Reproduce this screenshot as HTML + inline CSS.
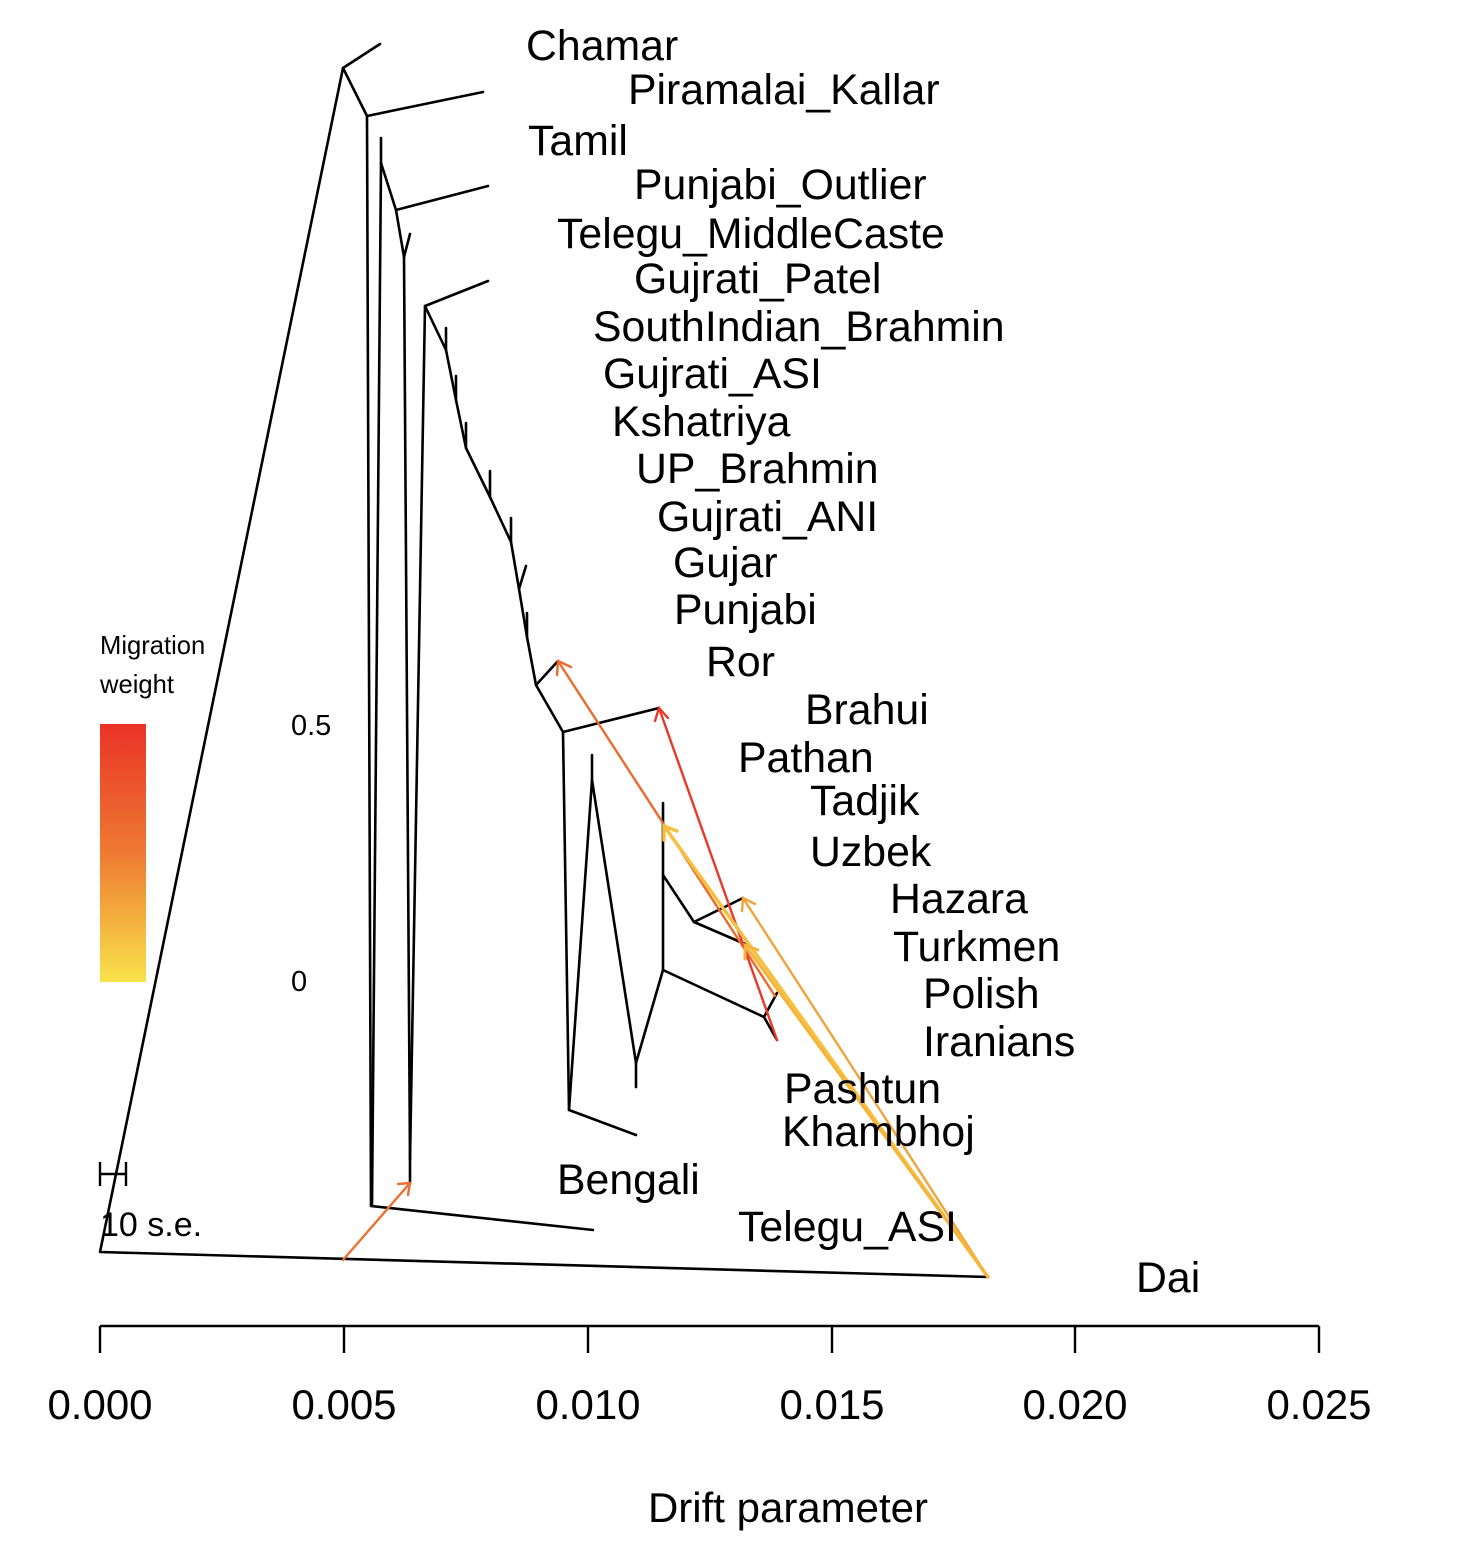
<!DOCTYPE html>
<html><head><meta charset="utf-8"><style>html,body{margin:0;padding:0;background:#fff}svg{display:block}</style></head>
<body>
<svg width="1468" height="1548" viewBox="0 0 1468 1548" xmlns="http://www.w3.org/2000/svg" font-family="Liberation Sans, Arial, sans-serif">
<defs>
<linearGradient id="g" x1="0" y1="0" x2="0" y2="1">
<stop offset="0" stop-color="#ea3326"/><stop offset="0.5" stop-color="#ee7a32"/><stop offset="1" stop-color="#f9e34b"/>
</linearGradient>
</defs>
<g stroke="#000" stroke-width="2.6" fill="none" stroke-linecap="round" stroke-linejoin="round">
<polyline points="988,1277 100,1252 343,68 380,44"/>
<polyline points="343,68 367,116 483,92"/>
<polyline points="367,116 371,1206 593,1230"/>
<polyline points="381,138 381,163 372,1206"/>
<polyline points="381,163 396,210 488,186"/>
<polyline points="396,210 404,257 410,234"/>
<polyline points="404,257 410,1160 410,1183"/>
<polyline points="488,281 425,306 410,1160"/>
<polyline points="425,306 446,350 456,400 466,448 490,497 511,542 519,589 527,637 536,685 558,661"/>
<line x1="446" y1="350" x2="446" y2="328"/>
<line x1="456" y1="400" x2="456" y2="376"/>
<line x1="466" y1="448" x2="466" y2="423"/>
<line x1="490" y1="497" x2="490" y2="471"/>
<line x1="511" y1="542" x2="511" y2="518"/>
<line x1="519" y1="589" x2="526" y2="566"/>
<line x1="527" y1="637" x2="527" y2="613"/>
<polyline points="536,685 563,732 659,708"/>
<polyline points="563,732 569,1110 636,1135"/>
<polyline points="569,1110 592,780 592,755"/>
<polyline points="592,780 636,1063 636,1087"/>
<polyline points="636,1063 663,970 663,803"/>
<polyline points="663,875 694,922 743,898"/>
<polyline points="694,922 745,944"/>
<polyline points="663,970 764,1017 777,993"/>
<polyline points="764,1017 777,1040"/>
</g>
<g fill="none" stroke-width="2.4" stroke-linecap="round">
<g stroke="#ee6f2e"><line x1="343" y1="1260" x2="410" y2="1183"/><polyline points="398,1184 410,1183 408,1195"/></g>
<g stroke="#ec6a2c"><line x1="775" y1="996" x2="558" y2="661"/><polyline points="557,675 558,661 571,667"/></g>
<g stroke="#e8392a"><line x1="777" y1="1040" x2="659" y2="708"/><polyline points="655,721 659,708 668,718"/></g>
<g stroke="#f0a33a"><line x1="988" y1="1277" x2="743" y2="898"/><polyline points="742,911 743,898 755,904"/></g>
<g stroke="#f6c040" stroke-width="3.5"><line x1="988" y1="1277" x2="664" y2="826"/><polyline points="664,840 664,826 677,831"/></g>
<g stroke="#f5b53d" stroke-width="3"><line x1="988" y1="1277" x2="745" y2="945"/><polyline points="745,959 745,945 758,950"/></g>
</g>
<g font-size="42.8" fill="#000">
<text x="526" y="60">Chamar</text>
<text x="628" y="104">Piramalai_Kallar</text>
<text x="528" y="155">Tamil</text>
<text x="634" y="199">Punjabi_Outlier</text>
<text x="557" y="248">Telegu_MiddleCaste</text>
<text x="634" y="293">Gujrati_Patel</text>
<text x="593" y="341">SouthIndian_Brahmin</text>
<text x="603" y="388">Gujrati_ASI</text>
<text x="612" y="436">Kshatriya</text>
<text x="636" y="483">UP_Brahmin</text>
<text x="657" y="531">Gujrati_ANI</text>
<text x="673" y="577">Gujar</text>
<text x="674" y="624">Punjabi</text>
<text x="706" y="676">Ror</text>
<text x="805" y="724">Brahui</text>
<text x="738" y="772">Pathan</text>
<text x="810" y="815">Tadjik</text>
<text x="810" y="866">Uzbek</text>
<text x="890" y="913">Hazara</text>
<text x="893" y="961">Turkmen</text>
<text x="923" y="1008">Polish</text>
<text x="923" y="1056">Iranians</text>
<text x="784" y="1103">Pashtun</text>
<text x="782" y="1146">Khambhoj</text>
<text x="557" y="1194">Bengali</text>
<text x="738" y="1241">Telegu_ASI</text>
<text x="1136" y="1292">Dai</text>
</g>
<rect x="100" y="724" width="46" height="258" fill="url(#g)"/>
<g font-size="25.6" fill="#000">
<text x="100" y="654">Migration</text>
<text x="100" y="693">weight</text>
</g>
<g font-size="29" fill="#000">
<text x="291" y="735">0.5</text>
<text x="291" y="991">0</text>
</g>
<g stroke="#000" stroke-width="2.4"><line x1="100" y1="1162" x2="100" y2="1186"/><line x1="126" y1="1162" x2="126" y2="1186"/><line x1="100" y1="1174" x2="126" y2="1174"/></g>
<text x="100" y="1236" font-size="34">10 s.e.</text>
<g stroke="#000" stroke-width="2.4" fill="none">
<line x1="100" y1="1326" x2="1319" y2="1326"/>
<line x1="100" y1="1326" x2="100" y2="1353"/>
<line x1="344" y1="1326" x2="344" y2="1353"/>
<line x1="588" y1="1326" x2="588" y2="1353"/>
<line x1="832" y1="1326" x2="832" y2="1353"/>
<line x1="1075" y1="1326" x2="1075" y2="1353"/>
<line x1="1319" y1="1326" x2="1319" y2="1353"/>
</g>
<g font-size="42" text-anchor="middle" fill="#000">
<text x="100" y="1419">0.000</text>
<text x="344" y="1419">0.005</text>
<text x="588" y="1419">0.010</text>
<text x="832" y="1419">0.015</text>
<text x="1075" y="1419">0.020</text>
<text x="1319" y="1419">0.025</text>
<text x="788" y="1522">Drift parameter</text>
</g>
</svg>
</body></html>
